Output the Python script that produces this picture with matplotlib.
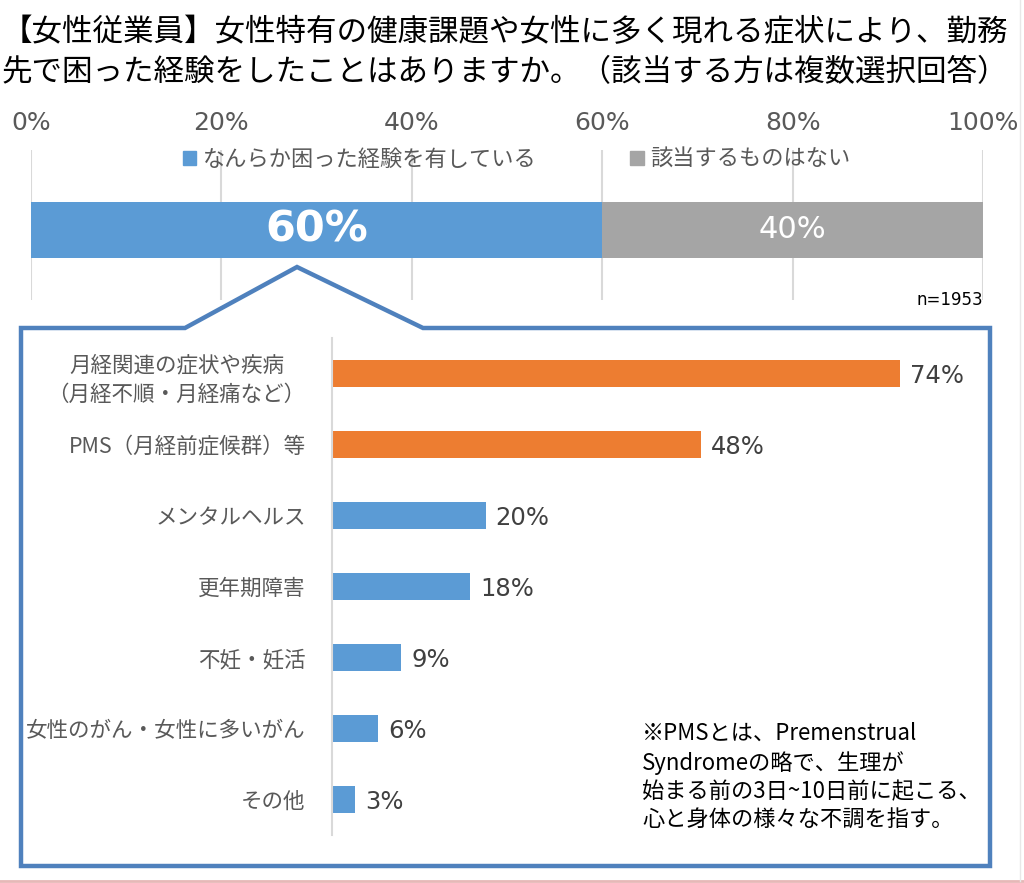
import matplotlib
matplotlib.use("Agg")
import matplotlib.pyplot as plt
from matplotlib.patches import Polygon, Patch
from matplotlib.lines import Line2D

JP = ['Noto Sans CJK JP', 'DejaVu Sans']
plt.rcParams['font.family'] = JP

title_lines = ["【女性従業員】女性特有の健康課題や女性に多く現れる症状により、勤務",
               "先で困った経験をしたことはありますか。（該当する方は複数選択回答）"]

# top stacked bar
top_labels = ["なんらか困った経験を有している", "該当するものはない"]
top_values = [60, 40]
top_ticks = [0, 20, 40, 60, 80, 100]
n_text = "n=1953"

# detail bars
categories = ["月経関連の症状や疾病\n（月経不順・月経痛など）",
              "PMS（月経前症候群）等",
              "メンタルヘルス",
              "更年期障害",
              "不妊・妊活",
              "女性のがん・女性に多いがん",
              "その他"]
values = [74, 48, 20, 18, 9, 6, 3]
highlight = [True, True, False, False, False, False, False]

note = ("※PMSとは、Premenstrual\n"
        "Syndromeの略で、生理が\n"
        "始まる前の3日~10日前に起こる、\n"
        "心と身体の様々な不調を指す。")

BLUE = '#5B9BD5'
GRAY = '#A5A5A5'
ORANGE = '#ED7D31'
FRAME = '#4F81BD'
TXT = '#595959'

W, H = 1024, 883
def fx(px): return px / W
def fy(py): return 1 - py / H

fig = plt.figure(figsize=(10.24, 8.83), dpi=100)

# title
for i, line in enumerate(title_lines):
    fig.text(fx(2), fy(33 + 40 * i), line, fontsize=22, va='center', ha='left', color='black')

# ---- top bar ----
ax1 = fig.add_axes([fx(31), fy(300), fx(983) - fx(31), 150 / H])
left = 0
colors = [BLUE, GRAY]
for v, c, lab in zip(top_values, colors, top_labels):
    ax1.barh(0.467, v, left=left, height=0.373, color=c, label=lab, zorder=2)
    left += v
ax1.text(top_values[0] / 2, 0.467, f"{top_values[0]}%", color='white', fontsize=31,
         fontweight='bold', ha='center', va='center', family='DejaVu Sans', zorder=3)
ax1.text(top_values[0] + top_values[1] / 2, 0.467, f"{top_values[1]}%", color='white', fontsize=22,
         ha='center', va='center', family='DejaVu Sans', zorder=3)
ax1.set_xlim(0, 100)
ax1.set_ylim(0, 1)
ax1.set_xticks(top_ticks)
ax1.set_xticklabels([f"{t}%" for t in top_ticks], family='DejaVu Sans', fontsize=18, color=TXT)
ax1.xaxis.tick_top()
ax1.tick_params(axis='x', length=0, pad=11)
ax1.set_yticks([])
ax1.grid(axis='x', color='#D9D9D9', linewidth=1.5, zorder=0)
for s in ax1.spines.values():
    s.set_visible(False)
ax1.text(1.0, 0.0, n_text, transform=ax1.transAxes, ha='right', va='center',
         fontsize=12, color='black', family='DejaVu Sans')

handles = [Patch(color=BLUE), Patch(color=GRAY)]
fig.legend(handles, top_labels, loc='center left', bbox_to_anchor=(fx(172), fy(159)),
           bbox_transform=fig.transFigure, ncol=2, frameon=False, fontsize=16,
           handlelength=0.6, handleheight=0.6, handletextpad=0.3, columnspacing=4.2,
           borderpad=0, labelcolor=TXT)

# ---- callout frame ----
pts = [(21, 328), (185, 328), (297, 267), (423, 328), (990, 328), (990, 866), (21, 866)]
poly = Polygon([(fx(x), fy(y)) for x, y in pts], closed=True, transform=fig.transFigure,
               facecolor='none', edgecolor=FRAME, linewidth=3.2, joinstyle='miter')
fig.add_artist(poly)

# ---- detail bars ----
ax2 = fig.add_axes([fx(332), fy(835), fx(985) - fx(332), (835 - 338) / H])
bar_colors = [ORANGE if h else BLUE for h in highlight]
ypos = list(range(len(categories)))
ax2.barh(ypos, values, height=0.37, color=bar_colors, zorder=2)
for y, v in zip(ypos, values):
    ax2.text(v + 1.3, y + 0.03, f"{v}%", va='center', ha='left', fontsize=17.5, color='#404040',
             family='DejaVu Sans')
ax2.set_xlim(0, 85)
ax2.set_ylim(len(categories) - 0.5, -0.5)
ax2.set_xticks([])
ax2.set_yticks(ypos)
ax2.set_yticklabels(categories, fontsize=15.5, color=TXT, multialignment='center', linespacing=1.45)
ax2.tick_params(axis='y', length=0, pad=19)
for k in ['top', 'right', 'bottom']:
    ax2.spines[k].set_visible(False)
ax2.spines['left'].set_color('#D9D9D9')
ax2.spines['left'].set_linewidth(1.5)

fig.text(fx(642), fy(722), note, fontsize=16, va='top', ha='left', color='black', linespacing=1.3)

# page edges seen in the screenshot
fig.add_artist(Line2D([0, 1], [fy(881), fy(881)], transform=fig.transFigure, color='#E6B8B7', linewidth=2))
fig.add_artist(Line2D([fx(1020), fx(1020)], [fy(881), 1], transform=fig.transFigure, color='#E8E8E8', linewidth=1))

fig.savefig("out.png", dpi=100, facecolor='white')
